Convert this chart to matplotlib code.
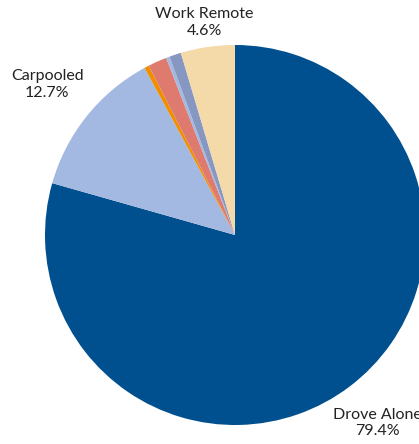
import matplotlib
matplotlib.use("Agg")
import matplotlib.pyplot as plt
import numpy as np

# commute mode shares (percent), clockwise from 12 o'clock
modes = ["Drove Alone", "Carpooled", "Transit", "Walked", "Bicycle", "Other", "Work Remote"]
shares = [79.4, 12.7, 0.4, 1.6, 0.3, 1.0, 4.6]
colors = ["#00508f", "#a4b9e1", "#ef8f00", "#df7a6e", "#a4b9e1", "#8698c2", "#f4d9a9"]
labelled = ["Drove Alone", "Carpooled", "Work Remote"]
label_dist = {"Drove Alone": 1.24, "Carpooled": 1.265, "Work Remote": 1.13}

plt.rcParams['font.family'] = ['Lato', 'DejaVu Sans']

fig = plt.figure(figsize=(4.19, 4.44), dpi=100)
ax = fig.add_axes([45/419, 19/444, 380/419, 380/444])

wedges, _ = ax.pie(shares, colors=colors, startangle=90, counterclock=False,
                   radius=1.0, wedgeprops=dict(linewidth=0))

for w, name, val in zip(wedges, modes, shares):
    if name not in labelled:
        continue
    ang = np.deg2rad((w.theta1 + w.theta2) / 2)
    d = label_dist[name]
    ax.text(d * np.cos(ang), d * np.sin(ang), "{}\n{:.1f}%".format(name, val),
            ha="center", va="center", fontsize=11.5, color="#222222",
            linespacing=1.25, clip_on=False)

ax.set_xlim(-1, 1)
ax.set_ylim(-1, 1)
ax.set_aspect("equal")
ax.axis("off")

fig.savefig("out.png", dpi=100)
